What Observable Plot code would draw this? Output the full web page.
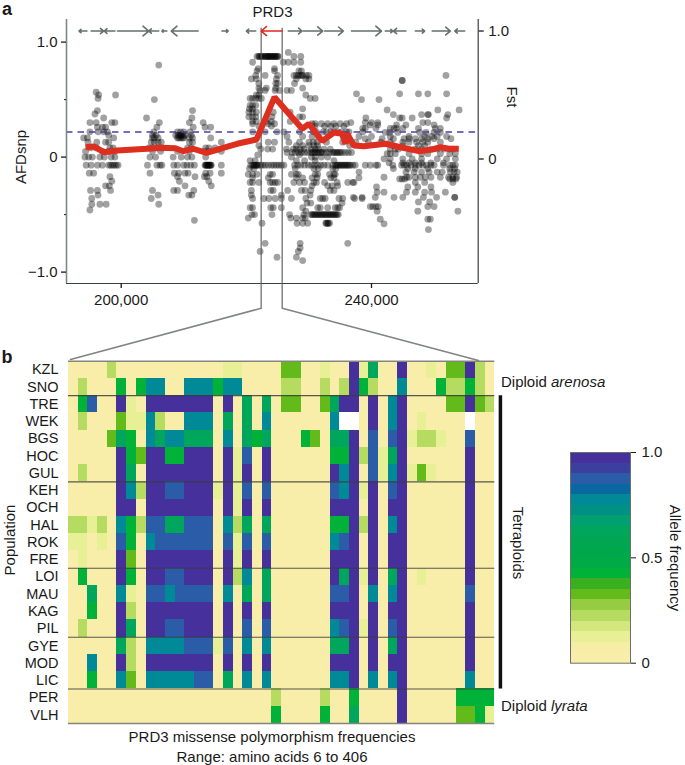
<!DOCTYPE html>
<html>
<head>
<meta charset="utf-8">
<script src="https://cdn.jsdelivr.net/npm/d3@7"></script>
<script src="https://cdn.jsdelivr.net/npm/@observablehq/plot@0.6"></script>
<style>
html,body{margin:0;padding:0;background:#fff}
#page{position:relative;width:685px;height:765px;overflow:hidden;font-family:"Liberation Sans",Arial,sans-serif;color:#1a1a1a}
#page svg{position:absolute;left:0;top:0;background:transparent}
.lab{position:absolute;white-space:nowrap;line-height:1.2;font-size:15px}
</style>
</head>
<body>
<div id="page"></div>
<script>
// --- Panel a: SNP AFD values, rows of [AFD, positions in kb] ---
const snpLeft = [
[.80,[206]],[.565,[196]],[.54,[196.4,199.1]],[.51,[196.3]],[.50,[205.3]],[.405,[196.2,211.4]],[.375,[195.8]],
[.34,[197.2,204.05,211.3]],[.30,[195,196,198.5,199,206.1,213.1,210.9]],[.26,[196.2,197,197.5,205.7,213.4,214.3,211.5]],
[.22,[195,196.3,197.2,197.8,205.2,209,209.5,210,211]],[.19,[198,205,205.6,208.7,209.1,209.6,210.2,211.2,209.4,209.9]],
[.167,[194,194.6,198.8,205,205.3,205.9,209,209.5,210,210.9,211.4,214.3,209.2,209.8]],
[.13,[194.7,196.1,197.5,198,204.8,205.3,205.9,206.4,210.9,211.4,216]],
[.08,[195.1,196,198.2,198.7,204.4,205,205.8,206.5,210.6,211.2,213.5,214,215]],
[.05,[194.3,197,198,199,205,206.3,209,210.9,213.3,214,216]],
[0,[194.2,194.8,195.4,196.6,197.3,198.4,199,205.5,204.6,208.3,209.6,210.6,211.3,213.5]],
[-.07,[194.4,195.2,196.2,197,198,198.3,198.6,198.9,199.2,199.5,204.2,205.7,206.2,206.5,208.4,209,210,210.5,211.1,211.7,213.4,213.6,213.8,214,214.2,214.4,216,213.5,213.7,213.9,214.1,214.3]],
[-.14,[194.9,195.6,204.6,208.5,209.2,210.2,210.7,213.5,214.2,216]],
[-.17,[198.2,209,211.8,213.3,213.7]],[-.21,[198.5,209.3,214]],[-.25,[197.5,198.1,210.2,214.4]],
[-.29,[195.1,196.2,198.3,205,208.4,209,211.6]],[-.33,[196.3,205.9,210.8,211.3]],[-.36,[195.3,204.8]],
[-.41,[195.3,196.6,197.6,206]],[-.46,[195]],[-.55,[211.7]]
];
const snpMiddle = [
[.91,[226.7]],[.875,[221.7,222,222.3,222.6,222.9,223.1,223.4,223.6,223.9,224.2,224.5,224.8,225.1,227.6,228.7,222.1,222.5,223.2,223.5,223.8,224.1,224.4,224.7,225]],
[.825,[221,225.9,226.7,227.6,228.7]],[.77,[221.9,224.5]],[.75,[221.7,228.4,228.8,224.5]],
[.71,[221.5,223,225,227.6,228,228.6,229,229.6,230,228.3,228.9]],[.68,[220.8,221.6,224.8,228,229.5,230]],
[.64,[222,224.7,225,227.7]],[.60,[222,223.2,224.7,229]],[.58,[222.2,223,224.6,225.3,226.5,227.2]],[.54,[221.6,222,229.5]],
[.51,[220.6,221,221.5,222,222.4,230.2,231]],[.45,[220.6,221,221.5]],[.42,[220.5,221,229]],[.39,[220.4,221,221.6,224.3,227]],
[.35,[220.4,221,221.5,224.1,228.5,229]],[.31,[221,221.6,223.2,224,227]],
[.29,[221,223.5,224.5,230.5,231,232,233,234,235,236]],[.27,[222,224,231,232.5,233.5,234.3,235.6]],
[.22,[221,223,224.9,226,228.5,230.7,231.2,232.3,232.8,233.5,234,234.6,235.2,236,236.4,238.6]],
[.18,[226.5,229,230.5,231.5,235.5]],[.13,[223.5,224.5,226.8,228.5,230,230.7,231.3,232.8,235.4]],
[.10,[222,228,229,230,230.8,231.4,236.5]],[.07,[222.3,223.4,224.2,226.4,227.5,228,228.6,229.2,230.4,231,231.5,232.4,233.4]],
[.04,[226.5,227.3,227.8,228.3,228.8,229.3,229.8,230.3,230.8,231.3,231.8,232.3,232.8,233.3,233.8,234.3,234.8,235.3,235.8,236.3,236.8,230.5,231,231.5,232,234,234.5,235]],
[.02,[221.8,228.5]],[0,[227.2,230.4,231,232,233]],[-.03,[220.6,221.4,228,229.3,231,234]],
[-.07,[220.7,221,221.3,221.6,222,222.3,222.6,223,223.5,224,224.4,224.8,225.2,225.6,226,227.7,228.2,228.7,229.3,229.9,230.4,230.9,231.4,231.9,232.4,233,233.8,234.2,234.6,235,235.4,235.8,236.2,236.6,237,237.4,234.4,234.8,235.2,235.6,236,236.4,221.2,221.5,221.8]],
[-.10,[220.5,221.2,227.8,230.8,231.5,233.8,234.3]],[-.15,[220.3,221,221.7,223.8,224.2,227.2,228,228.3,231,231.4,233.3,234,234.2]],
[-.18,[221,223.5,228,229,230.5,231.3,233.5,234,238]],[-.22,[220.6,221,222,223.8,224.2,224.6,225,227.6,228.5,229.3,230.8,231.2,232.5,234.5,236.2,237]],
[-.25,[230.5,233,233.7,234.6]],[-.29,[220.8,223.9,224.3,226.6,228.8,229.4,230.3,233.4,234]],[-.33,[220.8,225.6,230.2]],
[-.36,[221,222.8,223.6,224.6,225.6,227.2,229.5,231.8,232.2,232.6,234.8,235.4,237.3,238.5]],[-.40,[229.7,235.3,230.3]],
[-.44,[220.6,221,223.9,224.3,225.6,229,231.4,231.8,233,234.2,234.9,234.6]],[-.47,[229.5]],
[-.50,[220.9,221.3,224.1,226.9,229.2,230.3,230.7,231.1,231.5,231.9,232.3,232.7,233.1,233.5,233.9,234.3,234.7,230.5,230.9,231.3,231.7,232.1,232.5,232.9,233.3,233.7,234.1,234.5]],
[-.53,[220.3,227.1,228,229,229.4]],[-.575,[222.5,232.7,233,233.3,228.1,229,229.8,232.8,233.1]],
[-.75,[223,228.6,236.2]],[-.79,[228.6]],[-.82,[222.2,228.3]],[-.87,[224.9,228]],[-.90,[229]]
];
const snpRight = [
[.71,[251.9]],[.666,[244.9,244.9]],[.55,[237.6,244.5,247.5,249,252]],[.50,[238.4,241.2]],[.41,[242.5,250.6,254]],
[.37,[243.5,248,249,249.1,252.2]],[.34,[239.1,244.5,244.9,246.5,252]],[.30,[236.7,239,240,241,248.2,249]],
[.28,[239.8,241,244,245.5,250]],[.25,[238.6,239,240.7,243,243.6,244,245,247.5,250.2,251]],
[.215,[242.2,242.9,244.2,247.7,248.7,250,251]],[.18,[238,240,243,246,248.5,249.6,250.5,252]],
[.16,[239,241.7,243.5,245.2,246,247,248,249,250,252.7]],[.13,[237.5,239.5,241.5,243,245,246,247.2,248.2,249,251]],
[.10,[243.5,245,247.5,248.5]],[.07,[243,243.8,244.3,247,248,249.5,250.5,251.6,252.5,253]],
[.03,[242.5,243,243.8,246,248,249,251,252.5,253.4]],[-.015,[242,243,245,246.5,248,250.5,252,253.4]],
[-.05,[242.8,245,246,247,248,249.5,251.5]],
[-.07,[239,239.8,240.7,241,243.4,244.8,245.2,245.6,246.3,247,247.6,248.2,248.8,249.5,250,251.5,252.5,253,253.4]],
[-.10,[243.5,245.8,247,249,252.5,253.3]],[-.13,[238,245.5,246.8,248,249.2,250.5,251.3,252.6,253.2,253.7]],
[-.175,[242,245.6,246,247,247.8,248.6,249.5,251,252.3,253,253.6]],[-.19,[244.5,244.9,245.3,252.5,253,253.5]],
[-.22,[237.2,247,248.5,253]],[-.26,[240.8,245.8,247.4,249.5]],[-.305,[240.9,242,245.6,247,248.5,249.6,251.8]],
[-.35,[237.1,238.5,240.6,243.6,245,248.3,250.4,253.3,253.3]],[-.39,[247.5,249.3]],[-.43,[239.8,240.2,240.7,241.1,249,250]],
[-.47,[240.9,247.4,253.8]],[-.54,[241.4,249,249.4]],[-.58,[242]],[-.63,[249.1]]
];
// Fst sliding window (position kb, Fst)
const fstPos = [194.29,195.62,197.22,199.36,204.15,206.28,208.68,209.91,211.5,213.63,215.87,218.54,221.62,224.5,227.05,228.93,229.98,232.12,233.98,235.32,235.85,236.12,237.17,238.77,242.24,244.64,247.56,249.7,251.03,252.35,253.95];
const fstVal = [.092,.098,.053,.066,.08,.087,.084,.061,.08,.048,.08,.119,.152,.483,.34,.236,.275,.139,.207,.197,.119,.197,.105,.10,.119,.092,.061,.074,.092,.08,.08];
const afdThreshold = 0.218;
// Genes: [tail kb, head kb]
const genes = [[194.53,193.25],[195.2,197.2],[199,197.3],[199.4,204.4],[206,204.4],[207.3,206.5],[212.3,208],[216.1,217.1],[221.5,220],[226.7,228.9],[229.1,232.2],[232.5,235.5],[236.8,241.6],[242.2,243.4],[245.5,243.5],[247,248.5],[249.7,252.6],[254.9,253.3]];
const prd3Gene = [225.73,222.37];
// --- Panel b ---
const populations = ["KZL","SNO","TRE","WEK","BGS","HOC","GUL","KEH","OCH","HAL","ROK","FRE","LOI","MAU","KAG","PIL","GYE","MOD","LIC","PER","VLH"];
const levels = [0.02,0.12,0.22,0.32,0.42,0.62,0.77,0.87,0.97];
const freqRows = [
"00002000000 00000110000 33001008150 08001033820",
"02000404660 06664660000 22002028420 06000422420",
"04700810888 88880805050 33003588080 68000033832",
"02000311620 06660505060 000006xx080 68010000x00",
"00003540656 65550605450 00430558070 78122100700",
"00000843884 48880817080 00000448271 58000000800",
"02000850888 88880818080 00000868071 68131000800",
"00000862887 78881817070 00000768180 78000000800",
"00000880888 88880818080 00000888080 88000000800",
"22120642775 57770625050 00000448280 68000000800",
"11010740677 77770717070 00000678080 88000000800",
"01000830888 88880818080 00000888080 88000000800",
"04000840887 78880826050 00000858180 58010000800",
"00500610776 77770605050 00000778060 68000000700",
"00400820888 88880808080 00000888080 88000000800",
"02000850887 78880807070 00000678180 78000000800",
"00000520666 67771706060 00000558080 58000000800",
"00600820888 88880808080 00000888080 88000000800",
"00400630666 66770506060 00000668060 68000000600",
"00000000000 00000000002 00002004000 08000004444",
"00000000000 00000000004 00004005000 08000003341"
];
const breaks = [.05,.1,.15,.2,.25,.3,.35,.4,.45,.5,.55,.6,.65,.7,.75,.8,.85,.9,.95];
const palette = ["#f9edaa","#f6eda6","#e8f096","#d4e77f","#b5dc60","#95cc42","#62bb1a","#3ab020","#00b338","#00ab45","#00a84c","#00a652","#00a65c","#00a070","#009085","#008a98","#0a68a0","#2b5ca8","#3d3f9e","#46309c"];
const groupLines = [2,7,12,16,19];
const connectors = [
 [[222.37,-1.314],[191.9,-1.76]],
 [[225.73,-1.314],[257.1,-1.768]]
];

const fullPage = {width:685,height:765,style:{background:"transparent",fontFamily:"'Liberation Sans',Arial,sans-serif",color:"#1a1a1a"}};
const page = document.getElementById("page");
const snps = [...snpLeft,...snpMiddle,...snpRight].flatMap(([afd,ps])=>ps.map(p=>({pos:p*1000,afd})));
const xDomain=[191260,257050];
const marginsA={marginLeft:66,marginRight:207.3,marginTop:19,marginBottom:482};

// AFD plot
page.append(Plot.plot({...fullPage,...marginsA,
  x:{domain:xDomain},y:{domain:[-1.099,1.1965]},
  marks:[
    Plot.dot(snps,{x:"pos",y:"afd",r:3.4,fill:"#000",fillOpacity:.37,stroke:"none"}),
    Plot.ruleY([afdThreshold],{stroke:"#4b3fa6",strokeWidth:1.4,strokeDasharray:"6.5,5"}),
    Plot.ruleX([xDomain[0]],{stroke:"#80868a",strokeWidth:1.6}),
    Plot.ruleY([-1.099],{stroke:"#3a3f48",strokeWidth:1.2}),
    Plot.axisY({anchor:"left",ticks:[-1,0,1],tickFormat:d=>d===1?"1.0":d===0?"0":"\u22121.0",tickSize:5,tickPadding:4,fontSize:15,label:null,strokeWidth:1.3}),
    Plot.axisY({anchor:"left",ticks:[-.5,.5],tickFormat:()=>"",tickSize:2,label:null}),
    Plot.axisX({anchor:"bottom",ticks:[200000,240000],tickFormat:d3.format(","),tickSize:5,tickPadding:6,fontSize:15,label:null,strokeWidth:1.3}),
    ...connectors.map(([[a,b],[c,d]])=>Plot.line([[a*1000,1.12],[a*1000,b],[c*1000,d]],{stroke:"#55595c",strokeOpacity:.75,strokeWidth:1.5}))
  ]}));
// Fst plot
const fstSeries = fstPos.map((p,i)=>({pos:p*1000,fst:fstVal[i]}));
page.append(Plot.plot({...fullPage,...marginsA,
  x:{domain:xDomain,axis:null},y:{domain:[-.973,1.09],axis:null},
  marks:[
    Plot.ruleX([xDomain[1]],{stroke:"#3a3f48",strokeWidth:1.2}),
    Plot.axisY({anchor:"right",ticks:[0,1],tickFormat:d=>d===1?"1.0":"0",tickSize:5,tickPadding:5,fontSize:15,label:null,strokeWidth:1.3}),
    Plot.arrow(genes,{x1:d=>d[0]*1000,x2:d=>d[1]*1000,y1:()=>1,y2:()=>1,stroke:"#66706f",strokeWidth:1.6,headLength:7,headAngle:80}),
    Plot.arrow([prd3Gene],{x1:d=>d[0]*1000,x2:d=>d[1]*1000,y1:()=>1,y2:()=>1,stroke:"#e0291c",strokeWidth:1.6,headLength:8,headAngle:80}),
    Plot.line(fstSeries,{x:"pos",y:"fst",stroke:"#dd2e1f",strokeWidth:6,strokeLinejoin:"miter",strokeLinecap:"butt"})
  ]}));
// Heatmap
const cells = freqRows.flatMap((s,r)=>{
  const row=s.replace(/ /g,"");
  return [...row].flatMap((c,k)=>c==="x"?[]:[{k,r,v:levels[+c]}]);
});
const colorScale={type:"threshold",domain:breaks,range:palette};
page.append(Plot.plot({...fullPage,marginLeft:68,marginRight:190.7,marginTop:360.7,marginBottom:42,
  x:{domain:[0,44],axis:null},y:{domain:[21,0],axis:null},color:colorScale,
  marks:[
    Plot.rect(cells,{x1:"k",x2:d=>d.k+1,y1:"r",y2:d=>d.r+1,fill:"v",shapeRendering:"crispEdges"}),
    Plot.ruleY(groupLines,{stroke:"#3c3c3c",strokeOpacity:.85,strokeWidth:1.2}),
    Plot.ruleY([0,21],{stroke:"#85857f",strokeWidth:1.5}),
    Plot.ruleX([44.58],{y1:2,y2:19,stroke:"#111",strokeWidth:3.5}),
    Plot.axisY({anchor:"left",ticks:populations.map((_,i)=>i+.5),tickFormat:d=>populations[d-.5],tickSize:0,tickPadding:10,fontSize:14.5,label:null})
  ]}));
// Colour bar
const barBins=palette.map((_,i)=>({a:i/20,b:(i+1)/20,v:(i+.5)/20}));
page.append(Plot.plot({...fullPage,marginLeft:570,marginRight:55,marginTop:452,marginBottom:102.3,
  x:{domain:[0,1],axis:null},y:{domain:[0,1],axis:null},color:colorScale,
  marks:[
    Plot.rectY(barBins,{x1:0,x2:1,y1:"a",y2:"b",fill:"v",shapeRendering:"crispEdges"}),
    Plot.frame({stroke:"#6f6f6a",strokeWidth:1}),
    Plot.axisY({anchor:"right",ticks:[0,.5,1],tickFormat:d=>d===0?"0":d3.format(".1f")(d),tickSize:5,tickPadding:6,fontSize:15,label:null})
  ]}));
// Text labels
function label(html,x,y,{anchor="middle",rotate=0,weight=400,size=15}={}){
  const el=document.createElement("div");el.className="lab";el.innerHTML=html;
  const tx=anchor==="middle"?"-50%":anchor==="start"?"0":"-100%";
  el.style.cssText=`left:${x}px;top:${y}px;font-weight:${weight};font-size:${size}px;transform:translate(${tx},-50%) rotate(${rotate}deg)`;
  page.append(el);
}
label("a",7,10,{weight:700,size:18});
label("b",7,358,{weight:700,size:18});
label("PRD3",272.5,12);
label("AFDsnp",21,156.5,{rotate:-90});
label("Fst",512,97,{rotate:90});
label("Population",9.5,540,{rotate:-90});
label("Diploid <i>arenosa</i>",501,381.5,{anchor:"start"});
label("Tetraploids",518,543,{rotate:90});
label("Diploid <i>lyrata</i>",501,706,{anchor:"start"});
label("Allele frequency",675,558,{rotate:90});
label("PRD3 missense polymorphism frequencies",272,737);
label("Range: amino acids 6 to 406",272,757);
</script>
</body>
</html>
